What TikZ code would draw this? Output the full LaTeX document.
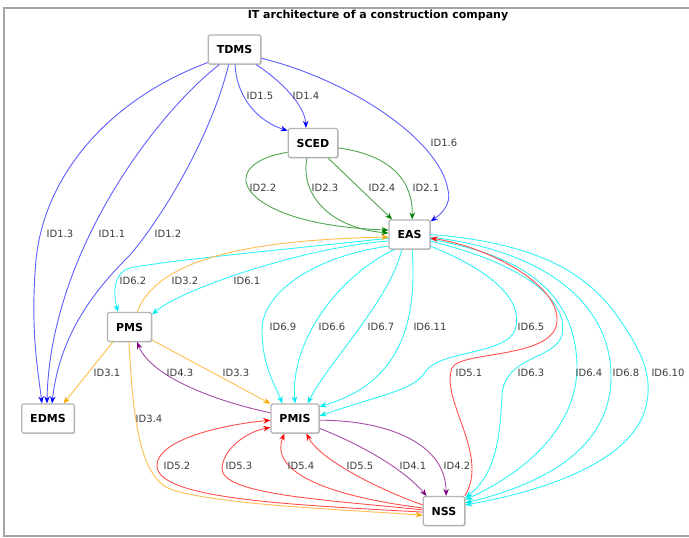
\documentclass[tikz,border=0pt]{standalone}
\usepackage{fontspec}
\setmainfont{DejaVu Sans}
\usetikzlibrary{arrows.meta,shadows}
\definecolor{blueL}{RGB}{95,95,255}
\definecolor{blueA}{RGB}{0,0,255}
\definecolor{greenL}{RGB}{80,165,80}
\definecolor{greenA}{RGB}{0,128,0}
\definecolor{orangeL}{RGB}{255,190,80}
\definecolor{orangeA}{RGB}{255,165,0}
\definecolor{purpleL}{RGB}{166,77,166}
\definecolor{purpleA}{RGB}{128,0,128}
\definecolor{redL}{RGB}{255,80,80}
\definecolor{redA}{RGB}{255,0,0}
\definecolor{cyanL}{RGB}{50,245,245}
\definecolor{cyanA}{RGB}{0,235,235}
\definecolor{labelgray}{RGB}{60,60,60}
\definecolor{framegray}{RGB}{165,165,165}
\definecolor{boxgray}{RGB}{180,180,180}
\begin{document}
\begin{tikzpicture}[x=1pt,y=-1pt,
  sysbox/.style={draw=boxgray, fill=white, line width=1.2pt, rounded corners=1.5pt,
    minimum height=29pt, inner xsep=8.5pt, font=\fontsize{11}{13}\selectfont\bfseries,
    general shadow={fill=black!25, shadow xshift=0.8pt, shadow yshift=-0.8pt}},
  lbl/.style={font=\fontsize{10}{12}\selectfont, text=labelgray, inner sep=1pt},
  edgebase/.style={line width=0.9pt},
  blueedge/.style={edgebase, draw=blueL, -{Stealth[length=7pt,width=5.5pt,color=blueA]}},
  greenedge/.style={edgebase, draw=greenL, -{Stealth[length=7pt,width=5.5pt,color=greenA]}},
  orangeedge/.style={edgebase, draw=orangeL, -{Stealth[length=7pt,width=5.5pt,color=orangeA]}},
  purpleedge/.style={edgebase, draw=purpleL, -{Stealth[length=7pt,width=5.5pt,color=purpleA]}},
  rededge/.style={edgebase, draw=redL, -{Stealth[length=7pt,width=5.5pt,color=redA]}},
  cyanedge/.style={edgebase, draw=cyanL, -{Stealth[length=7pt,width=5.5pt,color=cyanA]}}
]
\useasboundingbox (0,0) rectangle (689,538);
\fill[white] (0,0) rectangle (689,538);
\draw[framegray, line width=1.3pt] (695,8) -- (4,8) -- (4,536) -- (695,536);
\node[font=\fontsize{11}{13}\selectfont\bfseries] (title) at (378,16) {IT architecture of a construction company};

% systems
\node[sysbox] (TDMS) at (234.5,49.5) {TDMS};
\node[sysbox] (SCED) at (313,143) {SCED};
\node[sysbox] (EAS) at (409.5,234.5) {EAS};
\node[sysbox] (PMS) at (129.5,327) {PMS};
\node[sysbox] (EDMS) at (48,418.5) {EDMS};
\node[sysbox] (PMIS) at (295,418.5) {PMIS};
\node[sysbox] (NSS) at (444,511) {NSS};

% blue (TDMS)
\draw[blueedge] (TDMS.206) .. controls (115,97) and (45,170) .. (36,260) .. controls (30,330) and (38,370) .. (EDMS.112);
\draw[blueedge] (TDMS.225) .. controls (160,110) and (50,250) .. (EDMS.94);
\draw[blueedge] (TDMS.249) .. controls (210,140) and (160,220) .. (130,255) .. controls (100,285) and (60,330) .. (EDMS.75);
\draw[blueedge] (TDMS.272) .. controls (237,100) and (260,122) .. (SCED.154);
\draw[blueedge] (TDMS.-35) .. controls (280,80) and (305,105) .. (SCED.115);
\draw[blueedge] (TDMS.-18) .. controls (350,80) and (440,140) .. (448,190) .. controls (452,205) and (440,215) .. (EAS.32);

% green (SCED)
\draw[greenedge] (SCED.200) .. controls (210,165) and (240,225) .. (EAS.168);
\draw[greenedge] (SCED.248) .. controls (300,195) and (330,228) .. (EAS.176);
\draw[greenedge] (SCED.-45) -- (EAS.139);
\draw[greenedge] (SCED.-11) .. controls (390,155) and (413,180) .. (EAS.80);

% cyan (EAS)
\draw[cyanedge] (EAS.190) .. controls (300,248) and (170,260) .. (130,268) .. controls (115,272) and (112,290) .. (PMS.127);
\draw[cyanedge] (EAS.197) .. controls (300,248) and (180,290) .. (PMS.29);
\draw[cyanedge] (EAS.209) .. controls (320,255) and (262,290) .. (262,330) .. controls (262,365) and (275,385) .. (PMIS.130);
\draw[cyanedge] (EAS.225) .. controls (340,275) and (290,340) .. (PMIS.90);
\draw[cyanedge] (EAS.243) .. controls (390,300) and (330,360) .. (PMIS.50);
\draw[cyanedge] (EAS.280) .. controls (418,330) and (395,385) .. (PMIS.26);
\draw[cyanedge] (EAS.-29) .. controls (490,270) and (525,300) .. (515,330) .. controls (505,355) and (440,350) .. (425,372) .. controls (415,390) and (380,395) .. (PMIS.6);
\draw[cyanedge] (EAS.-18) .. controls (510,260) and (570,295) .. (562,335) .. controls (555,360) and (505,355) .. (502,395) .. controls (500,440) and (495,475) .. (NSS.32);
\draw[cyanedge] (EAS.-13) .. controls (520,255) and (575,290) .. (577,365) .. controls (578,430) and (520,475) .. (NSS.28);
\draw[cyanedge] (EAS.-7) .. controls (540,250) and (610,300) .. (611,375) .. controls (612,450) and (540,485) .. (NSS.21);
\draw[cyanedge] (EAS.0) .. controls (540,243) and (590,275) .. (620,320) .. controls (640,350) and (655,375) .. (645,410) .. controls (630,460) and (550,490) .. (NSS.16);

% orange (PMS)
\draw[orangeedge] (PMS.63) .. controls (155,265) and (230,240) .. (EAS.187);
\draw[orangeedge] (PMS.222) -- (EDMS.44);
\draw[orangeedge] (PMS.-30) -- (PMIS.149);
\draw[orangeedge] (PMS.268) .. controls (133,420) and (140,480) .. (173,490) .. controls (220,505) and (350,510) .. (NSS.191);

% purple (PMIS)
\draw[purpleedge] (PMIS.167) .. controls (210,400) and (150,375) .. (PMS.-63);
\draw[purpleedge] (PMIS.-22) .. controls (350,440) and (400,465) .. (NSS.139);
\draw[purpleedge] (PMIS.-4) .. controls (380,420) and (446,440) .. (NSS.82);

% red (NSS)
\draw[rededge] (NSS.36) .. controls (490,455) and (440,400) .. (452,368) .. controls (460,350) and (560,360) .. (557,318) .. controls (555,280) and (480,245) .. (EAS.-10);
\draw[rededge] (NSS.183) .. controls (300,505) and (155,500) .. (157,465) .. controls (158,440) and (220,425) .. (PMIS.184);
\draw[rededge] (NSS.177) .. controls (330,500) and (220,495) .. (222,468) .. controls (223,450) and (245,432) .. (PMIS.200);
\draw[rededge] (NSS.172) .. controls (320,495) and (270,470) .. (PMIS.235);
\draw[rededge] (NSS.164) .. controls (380,490) and (320,460) .. (PMIS.-53);

% labels
\node[lbl] (l13) at (60,234) {ID1.3};
\node[lbl] (l11) at (112,234) {ID1.1};
\node[lbl] (l12) at (168,234) {ID1.2};
\node[lbl] (l15) at (260,96) {ID1.5};
\node[lbl] (l14) at (306,96) {ID1.4};
\node[lbl] (l16) at (444,143) {ID1.6};
\node[lbl] (l22) at (263,188) {ID2.2};
\node[lbl] (l23) at (325,188) {ID2.3};
\node[lbl] (l24) at (382,188) {ID2.4};
\node[lbl] (l21) at (426,188) {ID2.1};
\node[lbl] (l62) at (133,281) {ID6.2};
\node[lbl] (l32) at (185,281) {ID3.2};
\node[lbl] (l61) at (247,281) {ID6.1};
\node[lbl] (l69) at (283,327) {ID6.9};
\node[lbl] (l66) at (332,327) {ID6.6};
\node[lbl] (l67) at (381,327) {ID6.7};
\node[lbl] (l611) at (430,327) {ID6.11};
\node[lbl] (l65) at (531,327) {ID6.5};
\node[lbl] (l31) at (107,373) {ID3.1};
\node[lbl] (l43) at (180,373) {ID4.3};
\node[lbl] (l33) at (236,373) {ID3.3};
\node[lbl] (l51) at (469,373) {ID5.1};
\node[lbl] (l63) at (531,373) {ID6.3};
\node[lbl] (l64) at (589,373) {ID6.4};
\node[lbl] (l68) at (626,373) {ID6.8};
\node[lbl] (l610) at (668,373) {ID6.10};
\node[lbl] (l34) at (149,419) {ID3.4};
\node[lbl] (l52) at (177,466) {ID5.2};
\node[lbl] (l53) at (239,466) {ID5.3};
\node[lbl] (l54) at (301,466) {ID5.4};
\node[lbl] (l55) at (360,466) {ID5.5};
\node[lbl] (l41) at (413,466) {ID4.1};
\node[lbl] (l42) at (457,466) {ID4.2};
\end{tikzpicture}
\end{document}
